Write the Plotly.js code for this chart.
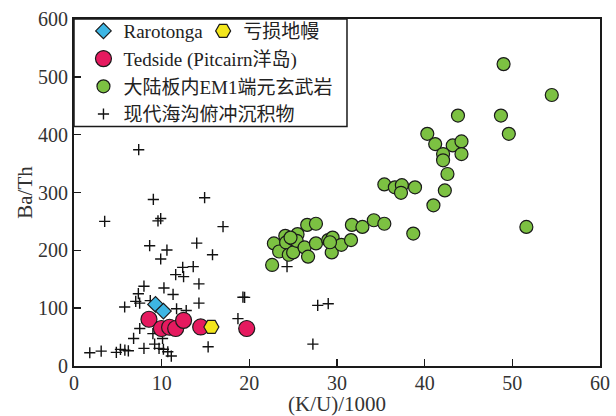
<!DOCTYPE html>
<html>
<head>
<meta charset="utf-8">
<script src="https://cdn.plot.ly/plotly-3.0.1.min.js"></script>
<style>html,body{margin:0;padding:0;background:#fff;}#chart{width:616px;height:416px;}</style>
</head>
<body>
<div id="chart"></div>
<script>
// Rarotonga
const raroX = [9.3, 10.2];
const raroY = [106.5, 95];
// 亏损地幔
const dmmX = [15.67];
const dmmY = [67.5];
// Tedside (Pitcairn洋岛)
const tedX = [8.55, 9.97, 10.9, 11.6, 12.5, 14.45, 19.7];
const tedY = [80.8, 64.8, 67, 64.8, 79, 67.5, 64.8];
// 大陆板内EM1端元玄武岩
const em1X = [49.0, 54.5, 43.8, 48.7, 49.6, 40.3, 41.2, 43.2, 44.2, 44.2, 42.1, 42.1, 42.6, 42.3, 41.0,
  35.4, 36.6, 37.4, 37.3, 38.9, 38.7, 51.6,
  22.6, 22.8, 23.4, 24.1, 24.2, 24.5, 25.0, 25.0, 25.5, 25.4, 26.3, 26.7, 26.6, 27.6, 27.6,
  29.0, 29.5, 29.4, 30.5, 31.6, 31.7, 32.9, 34.2, 35.4, 24.7, 29.2];
const em1Y = [522, 468.6, 433, 433, 401.5, 401.5, 383.7, 381.4, 388.3, 366.5, 366.5, 355.7, 332, 303.6, 277.8,
  314, 309, 312.7, 299.5, 309, 229, 240.5,
  174.7, 211.9, 198, 225, 213.6, 192.4, 196.4, 219.4, 228, 216.5, 205, 189, 244, 246, 212,
  217.7, 222, 196.4, 209.6, 217.7, 244, 240.5, 252, 246, 222, 214];
// 现代海沟俯冲沉积物
const sedX = [7.38, 9.05, 14.9, 3.5, 9.58, 9.89, 17.0, 8.63, 10.6, 9.89, 14.0, 15.8, 12.4, 11.6, 12.5, 13.6,
  7.98, 10.26, 14.25, 7.34, 11.3, 7.04, 7.49, 14.25, 5.78, 19.27, 19.46, 11.7, 12.8, 8.7, 18.7,
  7.5, 6.8, 9.0, 10.1, 9.2, 9.7, 10.2, 7.98, 10.7, 11.1, 15.3, 1.8, 3.1, 4.83, 5.3, 5.8, 6.2,
  24.3, 27.8, 29.0, 27.25];
const sedY = [374, 288, 291, 250, 251, 255, 241, 208, 200.5, 185, 212.5, 192.4, 170.6, 158, 154.6, 171.8,
  138, 135, 142, 125, 123.7, 111.7, 108.8, 108.8, 102, 119, 118.6, 99, 96, 113, 82,
  64.8, 47.6, 56, 47.6, 37.8, 30.4, 29, 30.4, 24.6, 17.2, 33.2, 22.9, 25.8, 23.5, 28.7, 27.5, 26.3,
  171.8, 104.8, 107.7, 37.8];
const xTicks = [0, 10, 20, 30, 40, 50, 60];
const yTicks = [0, 100, 200, 300, 400, 500, 600];

const edge = {color: '#1a1a1a', width: 1.2};
const traces = [
  {type: 'scatter', mode: 'markers', name: '现代海沟俯冲沉积物', x: sedX, y: sedY, legendrank: 4,
   marker: {symbol: 'cross-thin', size: 8, color: '#111', line: {color: '#111', width: 1.4}}},
  {type: 'scatter', mode: 'markers', name: '大陆板内EM1端元玄武岩', x: em1X, y: em1Y, legendrank: 3,
   marker: {symbol: 'circle', size: 13, color: '#7cc142', line: edge}},
  {type: 'scatter', mode: 'markers', name: 'Rarotonga', x: raroX, y: raroY, legendrank: 1,
   marker: {symbol: 'diamond', size: 12, color: '#3db6e4', line: edge}},
  {type: 'scatter', mode: 'markers', name: 'Tedside (Pitcairn洋岛)', x: tedX, y: tedY, legendrank: 2,
   marker: {symbol: 'circle', size: 16, color: '#e51a5f', line: edge}},
  {type: 'scatter', mode: 'markers', name: '亏损地幔', x: dmmX, y: dmmY, legend: 'legend2',
   marker: {symbol: 'hexagon2', size: 15, color: '#f3e61c', line: edge}}
];

const serif = "'Liberation Serif', 'Times New Roman', 'Noto Sans CJK SC', serif";
const axisCommon = {
  showline: true, linecolor: '#1a1a1a', linewidth: 2, mirror: true,
  ticks: 'inside', ticklen: 7, tickwidth: 1.5, tickcolor: '#1a1a1a',
  showgrid: false, zeroline: false,
  tickfont: {family: serif, size: 20, color: '#333'}
};
const layout = {
  width: 616, height: 416,
  margin: {l: 74, r: 16, t: 17, b: 50},
  paper_bgcolor: '#fff', plot_bgcolor: '#fff',
  font: {family: serif},
  xaxis: Object.assign({}, axisCommon, {range: [0, 60], tickvals: xTicks, ticktext: xTicks.map(String),
    ticklabelstandoff: -2,
    title: {text: '(K/U)/1000', font: {family: serif, size: 21, color: '#333'}, standoff: 10}}),
  yaxis: Object.assign({}, axisCommon, {range: [0, 600], tickvals: yTicks, ticktext: yTicks.map(String),
    title: {text: 'Ba/Th', font: {family: serif, size: 21, color: '#333'}, standoff: 0}}),
  showlegend: true,
  legend: {x: 0.018, y: 1.02, xanchor: 'left', yanchor: 'top', bgcolor: 'rgba(0,0,0,0)', borderwidth: 0,
    font: {family: serif, size: 19, color: '#222'}, traceorder: 'normal', itemsizing: 'trace'},
  legend2: {x: 0.2455, y: 1.02, xanchor: 'left', yanchor: 'top', bgcolor: 'rgba(0,0,0,0)', borderwidth: 0,
    font: {family: serif, size: 19, color: '#222'}},
  shapes: [{type: 'rect', xref: 'paper', yref: 'paper', x0: 0, x1: 0.519, y0: 0.6905, y1: 1,
    line: {color: '#1a1a1a', width: 1.5}, fillcolor: '#fff', layer: 'below'}]
};
Plotly.newPlot('chart', traces, layout, {displayModeBar: false, staticPlot: true});
</script>
</body>
</html>
